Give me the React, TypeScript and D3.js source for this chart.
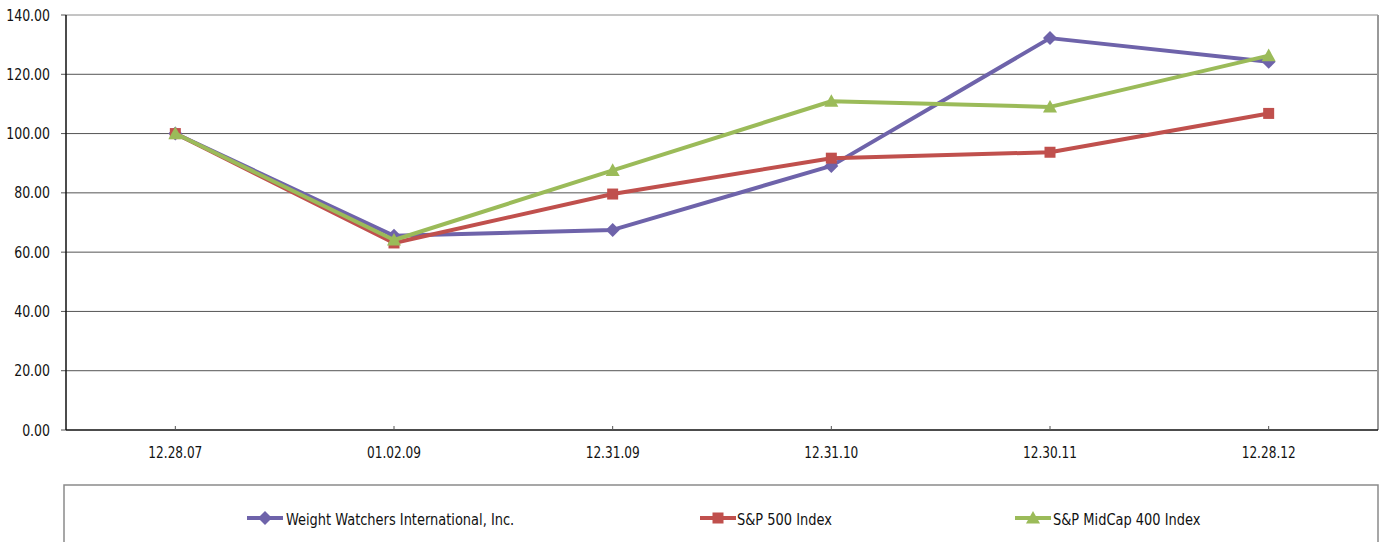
import React from "react";
import * as d3 from "d3";

const categories = ["12.28.07", "01.02.09", "12.31.09", "12.31.10", "12.30.11", "12.28.12"];
const wwValues = [100, 65.5, 67.5, 89.1, 132.2, 124.2];
const sp500Values = [100, 63.1, 79.6, 91.7, 93.7, 106.8];
const midcapValues = [100, 64.1, 87.6, 110.9, 109.0, 126.3];
const yTicks = [0, 20, 40, 60, 80, 100, 120, 140];

const series = [
  { name: "Weight Watchers International, Inc.", values: wwValues, color: "#6E63AA", marker: "diamond" },
  { name: "S&P 500 Index", values: sp500Values, color: "#C0504D", marker: "square" },
  { name: "S&P MidCap 400 Index", values: midcapValues, color: "#9BBB59", marker: "triangle" },
];

const W = 1383, H = 542;
const m = { left: 66, right: 1378, top: 15, bottom: 430 };
const FONT = "'DejaVu Sans Condensed', sans-serif";
const SX = 0.87;

function Marker({ type, x, y, color }: { type: string; x: number; y: number; color: string }) {
  if (type === "diamond") {
    const s = 7;
    return <path d={`M${x},${y - s}L${x + s},${y}L${x},${y + s}L${x - s},${y}Z`} fill={color} />;
  }
  if (type === "square") {
    const s = 5.5;
    return <rect x={x - s} y={y - s} width={2 * s} height={2 * s} fill={color} />;
  }
  const s = 7;
  return <path d={`M${x},${y - s}L${x + s},${y + s * 0.8}L${x - s},${y + s * 0.8}Z`} fill={color} />;
}

function Label({ x, y, anchor, children, size = 16 }: { x: number; y: number; anchor: string; children: any; size?: number }) {
  return (
    <g transform={`translate(${x},${y}) scale(${SX},1)`}>
      <text x={0} y={0} dy="0.35em" textAnchor={anchor} fontFamily={FONT} fontSize={size} fill="#111">
        {children}
      </text>
    </g>
  );
}

export default function App() {
  const x = d3.scaleBand<string>().domain(categories).range([m.left, m.right]);
  const y = d3.scaleLinear().domain([0, 140]).range([m.bottom, m.top]);
  const cx = (c: string) => (x(c) as number) + x.bandwidth() / 2;
  const line = d3.line<number>().x((_, i) => cx(categories[i])).y((d) => y(d));

  const legendItems = [
    { lx: 247, tx: 286 },
    { lx: 700, tx: 737 },
    { lx: 1015, tx: 1053 },
  ];

  return (
    <div style={{ position: "absolute", left: 0, top: 0 }}>
      <svg width={W} height={H} style={{ display: "block", background: "#fff" }}>
        {yTicks.map((t) => (
          <g key={t}>
            {t > 0 && (
              <line x1={m.left} x2={m.right} y1={y(t)} y2={y(t)} stroke={t === 140 ? "#8a8a8a" : "#555"} strokeWidth={1} />
            )}
            <line x1={m.left - 5} x2={m.left} y1={y(t)} y2={y(t)} stroke="#555" strokeWidth={1} />
            <Label x={50} y={y(t)} anchor="end">{t.toFixed(2)}</Label>
          </g>
        ))}
        <line x1={m.right} x2={m.right} y1={m.top} y2={m.bottom} stroke="#999" strokeWidth={2} />
        <line x1={m.left} x2={m.left} y1={m.top} y2={m.bottom} stroke="#111" strokeWidth={1.5} />
        <line x1={m.left} x2={m.right} y1={m.bottom} y2={m.bottom} stroke="#111" strokeWidth={1.5} />
        {categories.map((c) => (
          <g key={c}>
            <line x1={cx(c)} x2={cx(c)} y1={m.bottom} y2={m.bottom - 4} stroke="#555" strokeWidth={1} />
            <Label x={cx(c)} y={453} anchor="middle" size={15.5}>{c}</Label>
          </g>
        ))}
        {series.map((s) => (
          <g key={s.name}>
            <path d={line(s.values) as string} fill="none" stroke={s.color} strokeWidth={4} strokeLinejoin="round" />
            {s.values.map((v, i) => (
              <Marker key={i} type={s.marker} x={cx(categories[i])} y={y(v)} color={s.color} />
            ))}
          </g>
        ))}
        <rect x={64} y={485} width={1314} height={70} fill="none" stroke="#8a8a8a" strokeWidth={1.5} />
        {series.map((s, i) => {
          const li = legendItems[i];
          return (
            <g key={s.name}>
              <line x1={li.lx} x2={li.lx + 36} y1={518} y2={518} stroke={s.color} strokeWidth={4} />
              <Marker type={s.marker} x={li.lx + 18} y={518} color={s.color} />
              <Label x={li.tx} y={519} anchor="start" size={16.6}>{s.name}</Label>
            </g>
          );
        })}
      </svg>
    </div>
  );
}
